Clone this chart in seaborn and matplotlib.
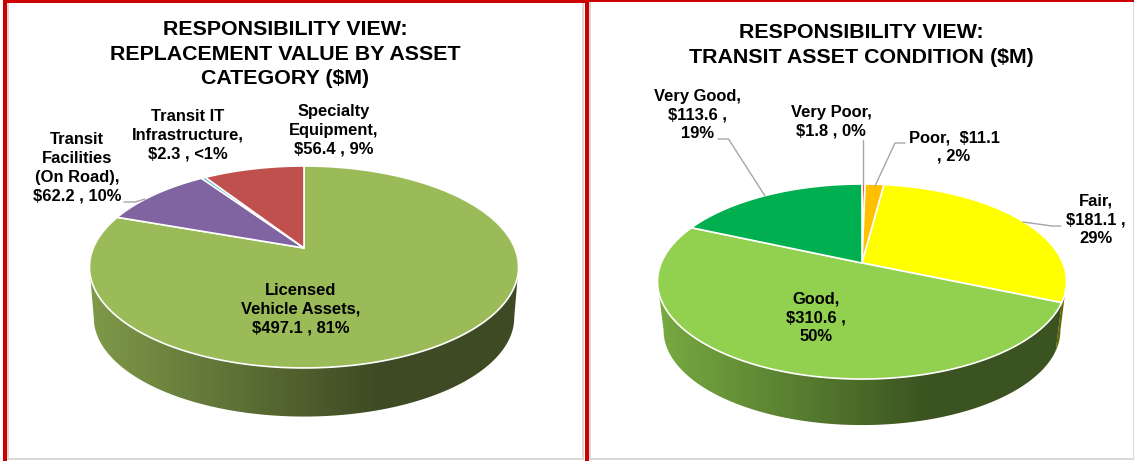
import numpy as np
import seaborn as sns
import matplotlib.pyplot as plt
from matplotlib.patches import Polygon, Rectangle

sns.set_theme(style="white")
plt.rcParams['font.family'] = ['Liberation Sans', 'DejaVu Sans']

W, H = 1134, 461

# left chart
cat_values = [497.1, 62.2, 2.3, 56.4]
cat_colors = ["#9BBB59", "#8064A2", "#4BACC6", "#C0504D"]
cat_title = "RESPONSIBILITY VIEW:\nREPLACEMENT VALUE BY ASSET\nCATEGORY ($M)"
cat_labels = ["Licensed\nVehicle Assets,\n$497.1 , 81%",
              "Transit\nFacilities\n(On Road),\n$62.2 , 10%",
              "Transit IT\nInfrastructure,\n$2.3 , <1%",
              "Specialty\nEquipment,\n$56.4 , 9%"]

# right chart
cond_values = [1.8, 11.1, 181.1, 310.6, 113.6]
cond_colors = ["#FF5050", "#FFC000", "#FFFF00", "#92D050", "#00B050"]
cond_title = "RESPONSIBILITY VIEW:\nTRANSIT ASSET CONDITION ($M)"
cond_labels = ["Very Poor,\n$1.8 , 0%", "Poor,  $11.1\n, 2%", "Fair,\n$181.1 ,\n29%",
               "Good,\n$310.6 ,\n50%", "Very Good,\n$113.6 ,\n19%"]


def project(theta, g, scale=1.0, shift=0.0):
    # tilted disc seen in perspective, the far edge is squeezed
    t = np.radians(theta)
    w = 1 + g["k"] * np.sin(t)
    x = g["cx"] + scale * g["a"] * np.cos(t) / w
    y = g["cy"] + shift - scale * g["b"] * np.sin(t) / w
    return x, y


def draw_pie(ax, values, colors, g):
    wedges, _ = ax.pie(values, colors=colors, startangle=90, counterclock=False)
    spans = [(w.theta1, w.theta2) for w in wedges]
    for w in wedges:
        w.remove()

    edge = np.degrees(np.arcsin(g["k"]))
    right, left = -edge, -180 + edge

    # side wall, only the front part shows
    for (t1, t2), c in zip(spans, colors):
        lo, hi = max(t1, left), min(t2, right)
        if lo >= hi:
            continue
        th = np.linspace(lo, hi, 120)
        xt, yt = project(th, g)
        xb, yb = project(th[::-1], g, g["s"], g["depth"])
        poly = Polygon(np.c_[np.r_[xt, xb], np.r_[yt, yb]], closed=True,
                       transform=ax.transData, fc="none", ec="none")
        ax.add_patch(poly)
        rgb = np.array(sns.desaturate(c, 1.0))
        light, dark = rgb * 0.82, rgb * 0.4
        cmap = sns.blend_palette([light, (light + dark) / 2, dark, dark], as_cmap=True)
        x0, _ = project(left, g)
        x1, _ = project(right, g)
        im = ax.imshow(np.linspace(0, 1, 256)[None, :], cmap=cmap, aspect="auto",
                       extent=[x0, x1, g["cy"] + g["b"] * 2.2, g["cy"] - g["b"]],
                       zorder=1)
        im.set_clip_path(poly)

    # top face
    for (t1, t2), c in zip(spans, colors):
        th = np.linspace(t1, t2, max(int(t2 - t1) * 2, 4))
        x, y = project(th, g)
        ax.fill(np.r_[g["cx"], x], np.r_[g["cy"], y], fc=c, ec="white", lw=1.2,
                joinstyle="round", zorder=2)


def panel(x0, x1):
    ax = fig.add_axes([x0 / W, 0, (x1 - x0) / W, 1])
    return ax


def finish(ax, x0, x1):
    ax.set_aspect("auto")
    ax.set_xlim(x0, x1)
    ax.set_ylim(H, 0)
    ax.axis("off")


fig = plt.figure(figsize=(W / 100, H / 100), dpi=100, facecolor="white")
ax1 = panel(0, 585)
ax2 = panel(585, W)

g1 = dict(cx=304, cy=248, a=210.7, b=97.4, k=0.188, s=0.98, depth=51)
g2 = dict(cx=862, cy=263, a=200.8, b=94.0, k=0.19, s=0.97, depth=49.5)
draw_pie(ax1, cat_values, cat_colors, g1)
draw_pie(ax2, cond_values, cond_colors, g2)
finish(ax1, 0, 585)
finish(ax2, 585, W)

# panel frames
red, grey = "#CC0000", "#D9D9D9"
for ax, rects in [(ax1, [(3, 0, 4, 461, red), (3, 0, 582, 3, red), (7, 3, 1.5, 455, grey),
                         (582, 3, 2, 456, grey), (7, 458, 577, 1.5, grey)]),
                  (ax2, [(585, 0, 4, 461, red), (585, 0, 549, 2, red), (589, 2, 2, 457, grey),
                         (1132.5, 2, 1.5, 457, grey), (589, 458, 545, 1.5, grey)])]:
    for x, y, w, h, c in rects:
        ax.add_patch(Rectangle((x, y), w, h, fc=c, ec="none", zorder=5))

# titles and labels
title_font = dict(fontsize=15.4, fontweight="bold", color="black", ha="center",
                  va="center", linespacing=1.37, zorder=6)
label_font = dict(fontsize=11.9, fontweight="bold", color="black", ha="center",
                  va="center", linespacing=1.31, zorder=6)
ax1.text(285, 54, cat_title, **title_font)
ax2.text(861.5, 45, cond_title, **title_font)

for text, (x, y) in zip(cat_labels, [(301, 309), (77, 168), (188, 135), (334, 130)]):
    ax1.text(x, y, text, **label_font)
for text, (x, y) in zip(cond_labels, [(831, 122), (954, 147), (1096, 220), (816, 318), (697, 115)]):
    ax2.text(x, y, text, **label_font)

# leader lines
leader = dict(color="#A6A6A6", lw=1, zorder=3)
ax1.plot([124, 135, 145], [202, 202, 199], **leader)
ax2.plot([718, 728.5, 765], [139, 139, 196], **leader)
ax2.plot([863, 863], [140, 184], **leader)
ax2.plot([905, 895, 875], [143, 143, 186], **leader)
ax2.plot([1061, 1052, 1023], [226, 226, 222], **leader)

fig.savefig("out.png", dpi=100)
